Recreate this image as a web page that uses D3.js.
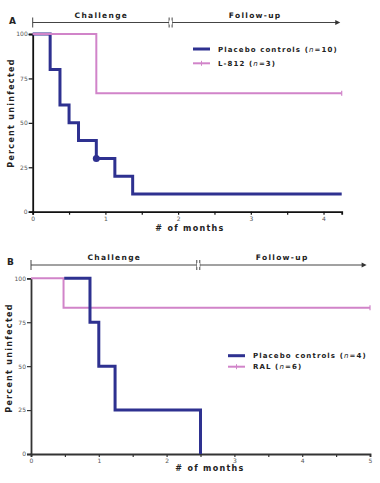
<!DOCTYPE html>
<html>
<head>
<meta charset="utf-8">
<script src="https://cdn.jsdelivr.net/npm/d3@7"></script>
<style>
  body { margin: 0; background: #fff; }
  svg { display: block; font-family: "DejaVu Sans", Verdana, sans-serif; }
  .lbl { font-weight: bold; font-size: 8px; letter-spacing: 1.3px; fill: #222; }
  .tick text { font-size: 6px; fill: #555; font-family: "DejaVu Sans", sans-serif; }
</style>
</head>
<body>
<div id="chart"></div>
<script>
// ---- data ----
const pctTicks = [0, 25, 50, 75, 100];

// panel A
const monthTicksA = [0, 1, 2, 3, 4];
const placeboA_t = [0, 0.24, 0.375, 0.5, 0.63, 0.875, 1.13, 1.375, 4.25];
const placeboA_s = [100, 80, 60, 50, 40, 30, 20, 10, 10];
const placeboA_censor = [[0.875, 30]];
const l812_t = [0, 0.875, 4.25];
const l812_s = [100, 66.7, 66.7];
const timelineA = [0, 1.89, 4.23]; // start, break, arrow end (months)

// panel B
const monthTicksB = [0, 1, 2, 3, 4, 5];
const placeboB_t = [0.49, 0.87, 1.0, 1.24, 2.5, 2.5];
const placeboB_s = [100, 75, 50, 25, 0, 0];
const ral_t = [0, 0.48, 5];
const ral_s = [100, 83.3, 83.3];
const timelineB = [0, 2.46, 4.95];

const BLUE = '#2e3190';
const PINK = '#d184c9';

const W = 380, H = 483;
const svg = d3.select('#chart').append('svg')
  .attr('width', W)
  .attr('height', H);

function zip(t, s) { return t.map((d, i) => [d, s[i]]); }

function panel(cfg) {
  const x = d3.scaleLinear().domain(cfg.xDomain).range(cfg.xRange);
  const y = d3.scaleLinear().domain([0, 100]).range(cfg.yRange);
  const g = svg.append('g');
  const axisCol = cfg.axisCol;

  // y axis
  g.append('g')
    .attr('transform', `translate(${x(0)},0)`)
    .call(d3.axisLeft(y).tickValues(pctTicks).tickSize(4).tickPadding(1))
    .call(a => a.select('.domain').attr('stroke', axisCol).attr('stroke-width', 1.8))
    .call(a => a.selectAll('.tick line').attr('stroke', axisCol).attr('stroke-width', 1.2));

  // x axis: minor ticks every half month, labelled at whole months
  const minor = d3.range(0, cfg.xDomain[1] + 0.001, 0.5);
  g.append('g')
    .attr('transform', `translate(0,${y(0)})`)
    .call(d3.axisBottom(x).tickValues(minor).tickSize(3).tickPadding(2)
      .tickFormat(d => cfg.monthTicks.includes(d) ? d3.format('d')(d) : ''))
    .call(a => a.select('.domain').attr('stroke', axisCol).attr('stroke-width', 1.8))
    .call(a => a.selectAll('.tick line').attr('stroke', axisCol).attr('stroke-width', 1.2));

  // axis titles
  g.append('text').attr('class', 'lbl')
    .attr('transform', `translate(${cfg.yTitle[0]},${cfg.yTitle[1]}) rotate(-90)`)
    .attr('text-anchor', 'middle')
    .text('Percent uninfected');
  g.append('text').attr('class', 'lbl')
    .attr('x', cfg.xTitle[0]).attr('y', cfg.xTitle[1])
    .attr('text-anchor', 'middle')
    .text('# of months');

  // panel letter
  g.append('text')
    .attr('x', cfg.letterPos[0]).attr('y', cfg.letterPos[1])
    .attr('font-weight', 'bold').attr('font-size', 9).attr('fill', '#222')
    .text(cfg.letter);

  // timeline
  const ty = cfg.timelineY;
  const [t0, tb, t1] = cfg.timeline.map(x);
  const tl = g.append('g').attr('stroke', '#444').attr('stroke-width', 1);
  tl.append('line').attr('x1', t0).attr('x2', t1 - 4).attr('y1', ty).attr('y2', ty);
  tl.append('line').attr('x1', t0).attr('x2', t0).attr('y1', ty - 5).attr('y2', ty + 5);
  g.append('rect').attr('x', tb - 1).attr('y', ty - 2).attr('width', 3).attr('height', 4).attr('fill', '#fff');
  tl.append('line').attr('x1', tb - 1).attr('x2', tb - 1).attr('y1', ty - 5).attr('y2', ty + 5);
  tl.append('line').attr('x1', tb + 2).attr('x2', tb + 2).attr('y1', ty - 5).attr('y2', ty + 5);
  g.append('path')
    .attr('d', `M${t1 - 5},${ty - 2.5}L${t1},${ty}L${t1 - 5},${ty + 2.5}Z`)
    .attr('fill', '#333');
  [['Challenge', (t0 + tb) / 2], ['Follow-up', (tb + t1) / 2]].forEach(([label, cx]) => {
    g.append('text').attr('class', 'lbl')
      .attr('x', cx).attr('y', ty - 5)
      .attr('text-anchor', 'middle')
      .style('font-weight', 600).style('font-size', '7.5px')
      .text(label);
  });

  // survival curves
  const line = d3.line().x(d => x(d[0])).y(d => y(d[1])).curve(d3.curveStepAfter);
  cfg.series.forEach(s => {
    g.append('path')
      .datum(zip(s.t, s.s))
      .attr('fill', 'none')
      .attr('stroke', s.color)
      .attr('stroke-width', s.width)
      .attr('d', line);
    (s.censor || []).forEach(c => {
      g.append('circle')
        .attr('cx', x(c[0])).attr('cy', y(c[1])).attr('r', 3.5)
        .attr('fill', s.color);
    });
    if (s.endTick) {
      const last = s.t.length - 1;
      g.append('line')
        .attr('x1', x(s.t[last])).attr('x2', x(s.t[last]))
        .attr('y1', y(s.s[last]) - 2.5).attr('y2', y(s.s[last]) + 2.5)
        .attr('stroke', s.color).attr('stroke-width', 1.2);
    }
  });

  // legend (placebo first)
  const legendSeries = cfg.series.slice().sort((a, b) => a.legendIdx - b.legendIdx);
  legendSeries.forEach((s, i) => {
    const ly = cfg.legend[1] + i * cfg.legendGap;
    g.append('line')
      .attr('x1', cfg.legend[0]).attr('x2', cfg.legend[0] + 17)
      .attr('y1', ly).attr('y2', ly)
      .attr('stroke', s.color).attr('stroke-width', s.width);
    if (s.endTick) {
      g.append('line')
        .attr('x1', cfg.legend[0] + 8.5).attr('x2', cfg.legend[0] + 8.5)
        .attr('y1', ly - 2.5).attr('y2', ly + 2.5)
        .attr('stroke', s.color).attr('stroke-width', 1);
    }
    const txt = g.append('text').attr('class', 'lbl')
      .attr('x', cfg.legend[0] + 25).attr('y', ly + 2.7)
      .style('font-size', '7px').style('letter-spacing', '1.1px');
    txt.append('tspan').text(s.name + ' (');
    txt.append('tspan').attr('font-style', 'italic').style('font-weight', 'normal').text('n');
    txt.append('tspan').text('=' + s.n + ')');
  });
}

panel({
  letter: 'A', letterPos: [9, 24],
  xDomain: [0, 4.25], xRange: [32.7, 341.7], yRange: [211.7, 34],
  monthTicks: monthTicksA, axisCol: '#111',
  yTitle: [14, 113], xTitle: [190, 231],
  timeline: timelineA, timelineY: 22.5,
  legend: [193, 49], legendGap: 14.3,
  series: [
    { name: 'Placebo controls', n: 10, t: placeboA_t, s: placeboA_s, color: BLUE, width: 3, censor: placeboA_censor, legendIdx: 0 },
    { name: 'L-812', n: 3, t: l812_t, s: l812_s, color: PINK, width: 2, endTick: true, legendIdx: 1 }
  ]
});

panel({
  letter: 'B', letterPos: [7, 265],
  xDomain: [0, 5], xRange: [31, 370], yRange: [454, 278.3],
  monthTicks: monthTicksB, axisCol: '#333',
  yTitle: [12, 358], xTitle: [210, 471],
  timeline: timelineB, timelineY: 265,
  legend: [228, 355.7], legendGap: 11,
  series: [
    { name: 'RAL', n: 6, t: ral_t, s: ral_s, color: PINK, width: 2, endTick: true, legendIdx: 1 },
    { name: 'Placebo controls', n: 4, t: placeboB_t, s: placeboB_s, color: BLUE, width: 3, legendIdx: 0 }
  ]
});
</script>
</body>
</html>
